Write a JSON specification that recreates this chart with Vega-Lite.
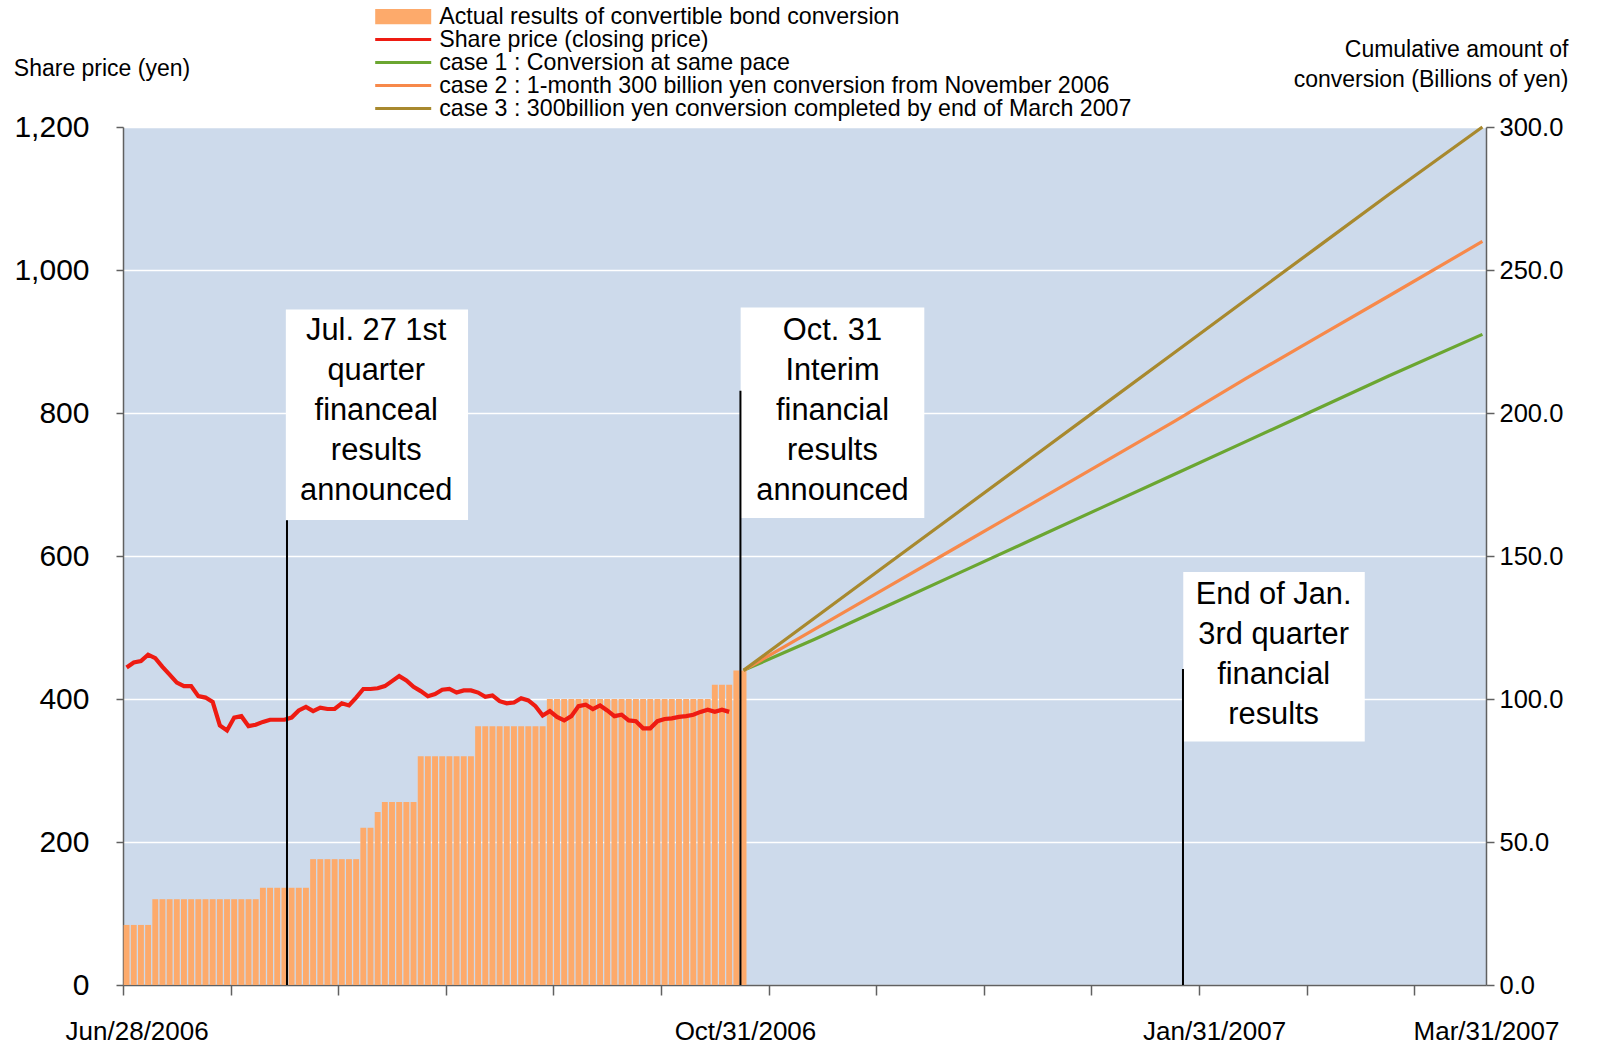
{
  "$schema": "https://vega.github.io/schema/vega-lite/v6.json",
  "width": 1363,
  "height": 858,
  "autosize": {"type": "none"},
  "padding": {"left": 123, "top": 127, "right": 116, "bottom": 60},
  "background": "white",
  "config": {
    "view": {"fill": "#CDDAEB", "stroke": null},
    "font": "Liberation Sans",
    "axis": {"labelFont": "Liberation Sans", "titleFont": "Liberation Sans", "labelColor": "black", "titleColor": "black", "titleFontWeight": "normal", "domainColor": "#606060", "domainWidth": 1.5, "tickColor": "#606060", "tickWidth": 1.5}
  },
  "datasets": {
    "bars": [
      {"i":0,"v":21,"s":"Actual results of convertible bond conversion"},{"i":1,"v":21,"s":"Actual results of convertible bond conversion"},{"i":2,"v":21,"s":"Actual results of convertible bond conversion"},{"i":3,"v":21,"s":"Actual results of convertible bond conversion"},
      {"i":4,"v":30,"s":"Actual results of convertible bond conversion"},{"i":5,"v":30,"s":"Actual results of convertible bond conversion"},{"i":6,"v":30,"s":"Actual results of convertible bond conversion"},{"i":7,"v":30,"s":"Actual results of convertible bond conversion"},{"i":8,"v":30,"s":"Actual results of convertible bond conversion"},{"i":9,"v":30,"s":"Actual results of convertible bond conversion"},{"i":10,"v":30,"s":"Actual results of convertible bond conversion"},{"i":11,"v":30,"s":"Actual results of convertible bond conversion"},{"i":12,"v":30,"s":"Actual results of convertible bond conversion"},{"i":13,"v":30,"s":"Actual results of convertible bond conversion"},{"i":14,"v":30,"s":"Actual results of convertible bond conversion"},{"i":15,"v":30,"s":"Actual results of convertible bond conversion"},{"i":16,"v":30,"s":"Actual results of convertible bond conversion"},{"i":17,"v":30,"s":"Actual results of convertible bond conversion"},{"i":18,"v":30,"s":"Actual results of convertible bond conversion"},
      {"i":19,"v":34,"s":"Actual results of convertible bond conversion"},{"i":20,"v":34,"s":"Actual results of convertible bond conversion"},{"i":21,"v":34,"s":"Actual results of convertible bond conversion"},{"i":22,"v":34,"s":"Actual results of convertible bond conversion"},{"i":23,"v":34,"s":"Actual results of convertible bond conversion"},{"i":24,"v":34,"s":"Actual results of convertible bond conversion"},{"i":25,"v":34,"s":"Actual results of convertible bond conversion"},
      {"i":26,"v":44,"s":"Actual results of convertible bond conversion"},{"i":27,"v":44,"s":"Actual results of convertible bond conversion"},{"i":28,"v":44,"s":"Actual results of convertible bond conversion"},{"i":29,"v":44,"s":"Actual results of convertible bond conversion"},{"i":30,"v":44,"s":"Actual results of convertible bond conversion"},{"i":31,"v":44,"s":"Actual results of convertible bond conversion"},{"i":32,"v":44,"s":"Actual results of convertible bond conversion"},
      {"i":33,"v":55,"s":"Actual results of convertible bond conversion"},{"i":34,"v":55,"s":"Actual results of convertible bond conversion"},{"i":35,"v":60.5,"s":"Actual results of convertible bond conversion"},
      {"i":36,"v":64,"s":"Actual results of convertible bond conversion"},{"i":37,"v":64,"s":"Actual results of convertible bond conversion"},{"i":38,"v":64,"s":"Actual results of convertible bond conversion"},{"i":39,"v":64,"s":"Actual results of convertible bond conversion"},{"i":40,"v":64,"s":"Actual results of convertible bond conversion"},
      {"i":41,"v":80,"s":"Actual results of convertible bond conversion"},{"i":42,"v":80,"s":"Actual results of convertible bond conversion"},{"i":43,"v":80,"s":"Actual results of convertible bond conversion"},{"i":44,"v":80,"s":"Actual results of convertible bond conversion"},{"i":45,"v":80,"s":"Actual results of convertible bond conversion"},{"i":46,"v":80,"s":"Actual results of convertible bond conversion"},{"i":47,"v":80,"s":"Actual results of convertible bond conversion"},{"i":48,"v":80,"s":"Actual results of convertible bond conversion"},
      {"i":49,"v":90.5,"s":"Actual results of convertible bond conversion"},{"i":50,"v":90.5,"s":"Actual results of convertible bond conversion"},{"i":51,"v":90.5,"s":"Actual results of convertible bond conversion"},{"i":52,"v":90.5,"s":"Actual results of convertible bond conversion"},{"i":53,"v":90.5,"s":"Actual results of convertible bond conversion"},{"i":54,"v":90.5,"s":"Actual results of convertible bond conversion"},{"i":55,"v":90.5,"s":"Actual results of convertible bond conversion"},{"i":56,"v":90.5,"s":"Actual results of convertible bond conversion"},{"i":57,"v":90.5,"s":"Actual results of convertible bond conversion"},{"i":58,"v":90.5,"s":"Actual results of convertible bond conversion"},
      {"i":59,"v":100,"s":"Actual results of convertible bond conversion"},{"i":60,"v":100,"s":"Actual results of convertible bond conversion"},{"i":61,"v":100,"s":"Actual results of convertible bond conversion"},{"i":62,"v":100,"s":"Actual results of convertible bond conversion"},{"i":63,"v":100,"s":"Actual results of convertible bond conversion"},{"i":64,"v":100,"s":"Actual results of convertible bond conversion"},{"i":65,"v":100,"s":"Actual results of convertible bond conversion"},{"i":66,"v":100,"s":"Actual results of convertible bond conversion"},{"i":67,"v":100,"s":"Actual results of convertible bond conversion"},{"i":68,"v":100,"s":"Actual results of convertible bond conversion"},{"i":69,"v":100,"s":"Actual results of convertible bond conversion"},{"i":70,"v":100,"s":"Actual results of convertible bond conversion"},{"i":71,"v":100,"s":"Actual results of convertible bond conversion"},{"i":72,"v":100,"s":"Actual results of convertible bond conversion"},{"i":73,"v":100,"s":"Actual results of convertible bond conversion"},{"i":74,"v":100,"s":"Actual results of convertible bond conversion"},{"i":75,"v":100,"s":"Actual results of convertible bond conversion"},{"i":76,"v":100,"s":"Actual results of convertible bond conversion"},{"i":77,"v":100,"s":"Actual results of convertible bond conversion"},{"i":78,"v":100,"s":"Actual results of convertible bond conversion"},{"i":79,"v":100,"s":"Actual results of convertible bond conversion"},{"i":80,"v":100,"s":"Actual results of convertible bond conversion"},{"i":81,"v":100,"s":"Actual results of convertible bond conversion"},
      {"i":82,"v":105,"s":"Actual results of convertible bond conversion"},{"i":83,"v":105,"s":"Actual results of convertible bond conversion"},{"i":84,"v":105,"s":"Actual results of convertible bond conversion"},
      {"i":85,"v":110,"s":"Actual results of convertible bond conversion"},{"i":86,"v":110,"s":"Actual results of convertible bond conversion"}
    ],
    "price": [
      {"i":0,"p":444},{"i":1,"p":451},{"i":2,"p":453},{"i":3,"p":462},{"i":4,"p":457},{"i":5,"p":445},{"i":6,"p":434},{"i":7,"p":423},{"i":8,"p":418},{"i":9,"p":418},
      {"i":10,"p":404},{"i":11,"p":402},{"i":12,"p":396},{"i":13,"p":363},{"i":14,"p":356},{"i":15,"p":374},{"i":16,"p":376},{"i":17,"p":362},{"i":18,"p":364},{"i":19,"p":368},
      {"i":20,"p":371},{"i":21,"p":371},{"i":22,"p":371},{"i":23,"p":374},{"i":24,"p":384},{"i":25,"p":389},{"i":26,"p":383},{"i":27,"p":388},{"i":28,"p":386},{"i":29,"p":386},
      {"i":30,"p":394},{"i":31,"p":391},{"i":32,"p":402},{"i":33,"p":414},{"i":34,"p":414},{"i":35,"p":415},{"i":36,"p":418},{"i":37,"p":425},{"i":38,"p":432},{"i":39,"p":426},
      {"i":40,"p":417},{"i":41,"p":411},{"i":42,"p":404},{"i":43,"p":407},{"i":44,"p":413},{"i":45,"p":414},{"i":46,"p":409},{"i":47,"p":412},{"i":48,"p":412},{"i":49,"p":409},
      {"i":50,"p":403},{"i":51,"p":405},{"i":52,"p":397},{"i":53,"p":394},{"i":54,"p":395},{"i":55,"p":401},{"i":56,"p":398},{"i":57,"p":390},{"i":58,"p":377},{"i":59,"p":383},
      {"i":60,"p":375},{"i":61,"p":370},{"i":62,"p":376},{"i":63,"p":390},{"i":64,"p":392},{"i":65,"p":386},{"i":66,"p":391},{"i":67,"p":384},{"i":68,"p":376},{"i":69,"p":378},
      {"i":70,"p":370},{"i":71,"p":369},{"i":72,"p":359},{"i":73,"p":359},{"i":74,"p":369},{"i":75,"p":372},{"i":76,"p":373},{"i":77,"p":375},{"i":78,"p":376},{"i":79,"p":378},
      {"i":80,"p":382},{"i":81,"p":385},{"i":82,"p":382},{"i":83,"p":385},{"i":84,"p":382}
    ],
    "cases": [
      {"i":86,"v":110,"s":"case 1 : Conversion at same pace"},{"i":96,"v":121,"s":"case 1 : Conversion at same pace"},{"i":106,"v":132.5,"s":"case 1 : Conversion at same pace"},{"i":116,"v":144,"s":"case 1 : Conversion at same pace"},{"i":126,"v":155.5,"s":"case 1 : Conversion at same pace"},{"i":136,"v":167,"s":"case 1 : Conversion at same pace"},{"i":146,"v":178.5,"s":"case 1 : Conversion at same pace"},{"i":156,"v":190,"s":"case 1 : Conversion at same pace"},{"i":166,"v":201.5,"s":"case 1 : Conversion at same pace"},{"i":176,"v":213,"s":"case 1 : Conversion at same pace"},{"i":189,"v":227.5,"s":"case 1 : Conversion at same pace"},
      {"i":86,"v":110,"s":"case 2 : 1-month 300 billion yen conversion from November 2006"},{"i":96,"v":124.5,"s":"case 2 : 1-month 300 billion yen conversion from November 2006"},{"i":106,"v":139,"s":"case 2 : 1-month 300 billion yen conversion from November 2006"},{"i":116,"v":153.5,"s":"case 2 : 1-month 300 billion yen conversion from November 2006"},{"i":126,"v":168,"s":"case 2 : 1-month 300 billion yen conversion from November 2006"},{"i":136,"v":182.5,"s":"case 2 : 1-month 300 billion yen conversion from November 2006"},{"i":146,"v":197,"s":"case 2 : 1-month 300 billion yen conversion from November 2006"},{"i":156,"v":212,"s":"case 2 : 1-month 300 billion yen conversion from November 2006"},{"i":166,"v":226.5,"s":"case 2 : 1-month 300 billion yen conversion from November 2006"},{"i":176,"v":241,"s":"case 2 : 1-month 300 billion yen conversion from November 2006"},{"i":189,"v":260,"s":"case 2 : 1-month 300 billion yen conversion from November 2006"},
      {"i":86,"v":110,"s":"case 3 : 300billion yen conversion completed by end of March 2007"},{"i":96,"v":128.5,"s":"case 3 : 300billion yen conversion completed by end of March 2007"},{"i":106,"v":147,"s":"case 3 : 300billion yen conversion completed by end of March 2007"},{"i":116,"v":165.5,"s":"case 3 : 300billion yen conversion completed by end of March 2007"},{"i":126,"v":184,"s":"case 3 : 300billion yen conversion completed by end of March 2007"},{"i":136,"v":202.5,"s":"case 3 : 300billion yen conversion completed by end of March 2007"},{"i":146,"v":221,"s":"case 3 : 300billion yen conversion completed by end of March 2007"},{"i":156,"v":239.5,"s":"case 3 : 300billion yen conversion completed by end of March 2007"},{"i":166,"v":258,"s":"case 3 : 300billion yen conversion completed by end of March 2007"},{"i":176,"v":276.5,"s":"case 3 : 300billion yen conversion completed by end of March 2007"},{"i":189,"v":300,"s":"case 3 : 300billion yen conversion completed by end of March 2007"}
    ],
    "rules": [
      {"x":22.36,"lo":0,"hi":650},
      {"x":85.57,"lo":0,"hi":831},
      {"x":147.26,"lo":0,"hi":442}
    ],
    "boxes": [
      {"x1":22.2,"x2":47.6,"y1":650.3,"y2":944.8},
      {"x1":85.6,"x2":111.2,"y1":653.1,"y2":947.6},
      {"x1":147.3,"x2":172.6,"y1":340.4,"y2":577.6}
    ],
    "notes": [
      {"x":34.8,"y":915,"t":"Jul. 27 1st\nquarter\nfinanceal\nresults\nannounced"},
      {"x":98.4,"y":915,"t":"Oct. 31\nInterim\nfinancial\nresults\nannounced"},
      {"x":159.9,"y":546,"t":"End of Jan.\n3rd quarter\nfinancial\nresults"}
    ]
  },
  "layer": [
    {
      "layer": [
        {
          "data": {"name": "bars"},
          "mark": {"type": "bar", "width": 5.9},
          "encoding": {
            "x": {"field": "i", "type": "quantitative", "scale": {"domain": [-0.5, 189.5], "nice": false, "zero": false, "padding": 0},
              "axis": {
                "values": [-0.5, 14.5, 29.5, 44.5, 59.5, 74.5, 89.5, 104.5, 119.5, 134.5, 149.5, 164.5, 179.5, 1.4, 86.2, 151.6, 189.5],
                "labelExpr": "datum.value == 1.4 ? 'Jun/28/2006' : datum.value == 86.2 ? 'Oct/31/2006' : datum.value == 151.6 ? 'Jan/31/2007' : datum.value == 189.5 ? 'Mar/31/2007' : ''",
                "tickOpacity": {"condition": {"test": "datum.value == 1.4 || datum.value == 86.2 || datum.value == 151.6 || datum.value == 189.5", "value": 0}, "value": 1},
                "tickSize": 10, "labelFontSize": 26, "labelPadding": 23, "labelOverlap": false, "labelFlush": false, "grid": false, "title": null
              }
            },
            "y": {"field": "v", "type": "quantitative", "scale": {"domain": [0, 300], "nice": false},
              "axis": {"orient": "right", "values": [0, 50, 100, 150, 200, 250, 300], "format": ".1f", "labelFontSize": 25.5, "tickSize": 8, "labelPadding": 5, "grid": false,
                "title": ["Cumulative amount of", "conversion (Billions of yen)"], "titleAngle": 0, "titleFontSize": 23, "titleAlign": "right", "titleBaseline": "middle", "titleX": 82, "titleY": -78, "titleLineHeight": 30.7}
            },
            "color": {"field": "s", "type": "nominal",
              "scale": {"domain": ["Actual results of convertible bond conversion", "Share price (closing price)", "case 1 : Conversion at same pace", "case 2 : 1-month 300 billion yen conversion from November 2006", "case 3 : 300billion yen conversion completed by end of March 2007"],
                "range": ["#FDAA6B", "#EE1B12", "#6BA631", "#F7894A", "#A8892E"]},
              "legend": {
                "orient": "none", "legendX": 268.6, "legendY": -122, "title": null, "padding": 0,
                "symbolType": "M-10,0H10", "symbolSize": 31.36, "symbolStrokeWidth": 3,
                "labelFontSize": 23.2, "labelFont": "Liberation Sans", "labelColor": "black", "labelOffset": 24.4, "labelLimit": 0, "rowPadding": -1.1,
                "encode": {"symbols": {"update": {
                  "shape": {"signal": "datum.value === 'Actual results of convertible bond conversion' ? 'M-10,-2.7H10V2.7H-10Z' : 'M-10,0H10'"},
                  "fill": {"signal": "datum.value === 'Actual results of convertible bond conversion' ? scale('color', datum.value) : 'transparent'"},
                  "stroke": {"scale": "color", "field": "value"},
                  "strokeWidth": {"signal": "datum.value === 'Actual results of convertible bond conversion' ? 0 : 3"},
                  "opacity": {"value": 1}}}}
              }
            }
          }
        },
        {
          "data": {"name": "cases"},
          "mark": {"type": "line", "strokeWidth": 3.2},
          "encoding": {
            "x": {"field": "i", "type": "quantitative"},
            "y": {"field": "v", "type": "quantitative"},
            "color": {"field": "s", "type": "nominal"}
          }
        }
      ]
    },
    {
      "layer": [
        {
          "data": {"name": "price"},
          "mark": {"type": "line", "strokeWidth": 4.2, "color": "#EE1B12"},
          "encoding": {
            "x": {"field": "i", "type": "quantitative"},
            "y": {"field": "p", "type": "quantitative", "scale": {"domain": [0, 1200], "nice": false},
              "axis": {"orient": "left", "values": [0, 200, 400, 600, 800, 1000, 1200], "format": ",.0f", "labelFontSize": 30, "tickSize": 7, "labelPadding": 27,
                "grid": true, "gridColor": "white", "gridWidth": 1.3,
                "title": "Share price (yen)", "titleAngle": 0, "titleFontSize": 23, "titleAlign": "center", "titleBaseline": "middle", "titleX": -21.5, "titleY": -58.6}
            },
            "color": {"datum": "Share price (closing price)"}
          }
        },
        {
          "data": {"name": "boxes"},
          "mark": {"type": "rect", "color": "white"},
          "encoding": {
            "x": {"field": "x1", "type": "quantitative"},
            "x2": {"field": "x2"},
            "y": {"field": "y1", "type": "quantitative"},
            "y2": {"field": "y2"}
          }
        },
        {
          "data": {"name": "rules"},
          "mark": {"type": "rule", "color": "black", "strokeWidth": 2},
          "encoding": {
            "x": {"field": "x", "type": "quantitative"},
            "y": {"field": "lo", "type": "quantitative"},
            "y2": {"field": "hi"}
          }
        },
        {
          "data": {"name": "notes"},
          "mark": {"type": "text", "lineBreak": "\n", "fontSize": 30.8, "lineHeight": 40, "align": "center", "baseline": "middle", "color": "black", "font": "Liberation Sans"},
          "encoding": {
            "x": {"field": "x", "type": "quantitative"},
            "y": {"field": "y", "type": "quantitative"},
            "text": {"field": "t", "type": "nominal"}
          }
        }
      ]
    }
  ],
  "resolve": {"scale": {"y": "independent"}, "axis": {"y": "independent"}}
}
